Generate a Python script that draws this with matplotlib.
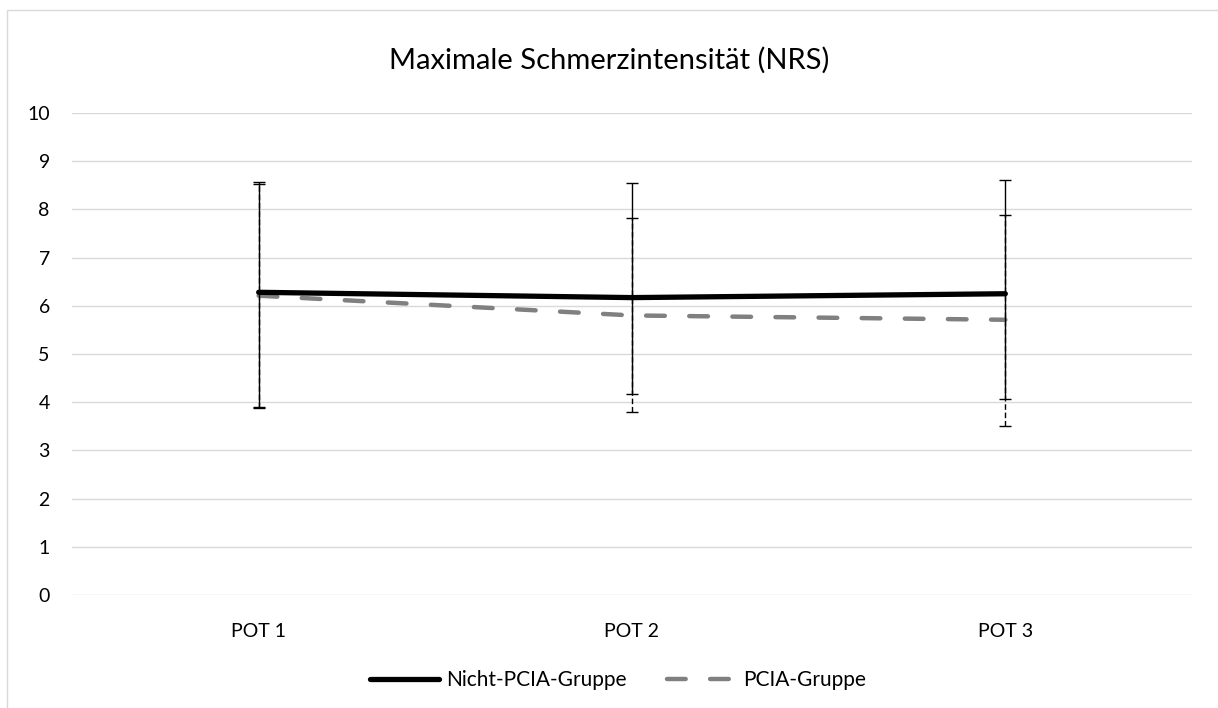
import matplotlib.pyplot as plt
from matplotlib.patches import Rectangle

# values
categories = ["POT 1", "POT 2", "POT 3"]
nicht_mean = [6.28, 6.17, 6.25]
nicht_upper = [8.56, 8.54, 8.62]
nicht_lower = [3.90, 4.16, 4.06]
pcia_mean = [6.21, 5.80, 5.71]
pcia_upper = [8.53, 7.82, 7.89]
pcia_lower = [3.87, 3.79, 3.51]

plt.rcParams["font.family"] = ["Lato", "DejaVu Sans"]

fig = plt.figure(figsize=(12.18, 7.08), dpi=100)
ax = fig.add_axes([72 / 1218, 1 - 595 / 708, 1120 / 1218, 482 / 708])

x = list(range(len(categories)))

# PCIA group (dashed, gray) drawn first
p_err = [[m - lo for m, lo in zip(pcia_mean, pcia_lower)],
         [hi - m for m, hi in zip(pcia_mean, pcia_upper)]]
_, caps, bars = ax.errorbar(x, pcia_mean, yerr=p_err, fmt="none", ecolor="black",
                            elinewidth=1.0, capsize=4, capthick=1.0, zorder=2)
for b in bars:
    b.set_linestyle((0, (4, 2)))
ax.plot(x, pcia_mean, color="#808080", linewidth=3.2, dashes=(4.2, 5.5),
        dash_capstyle="round", label="PCIA-Gruppe", zorder=3)

# Nicht-PCIA group (solid, black)
n_err = [[m - lo for m, lo in zip(nicht_mean, nicht_lower)],
         [hi - m for m, hi in zip(nicht_mean, nicht_upper)]]
ax.errorbar(x, nicht_mean, yerr=n_err, fmt="none", ecolor="black",
            elinewidth=1.0, capsize=4, capthick=1.0, zorder=4)
ax.plot(x, nicht_mean, color="black", linewidth=3.8, solid_capstyle="round",
        label="Nicht-PCIA-Gruppe", zorder=5)

ax.set_xlim(-0.5, 2.5)
ax.set_ylim(0, 10)
ax.set_yticks(range(0, 11))
ax.set_xticks(x, categories)
ax.grid(axis="y", color="#d9d9d9", linewidth=1.0)
ax.set_axisbelow(True)
for s in ax.spines.values():
    s.set_visible(False)
ax.tick_params(axis="both", length=0, labelsize=14, colors="#000000")
ax.tick_params(axis="y", pad=16)
ax.tick_params(axis="x", pad=20)

fig.text(0.5, 1 - 60 / 708, "Maximale Schmerzintensität (NRS)", ha="center",
         va="center", fontsize=21)

handles, labels = ax.get_legend_handles_labels()
fig.legend(handles[::-1], labels[::-1], loc="center", bbox_to_anchor=(618 / 1218, 1 - 680 / 708),
           ncol=2, frameon=False, fontsize=15, handlelength=3.3, handletextpad=0.35,
           columnspacing=1.9)

fig.patches.append(Rectangle((7 / 1218, -0.1), 1.2, 1 - 10 / 708 + 0.1,
                             transform=fig.transFigure, fill=False,
                             edgecolor="#d9d9d9", linewidth=1.0))

fig.savefig("out.png", dpi=100)
